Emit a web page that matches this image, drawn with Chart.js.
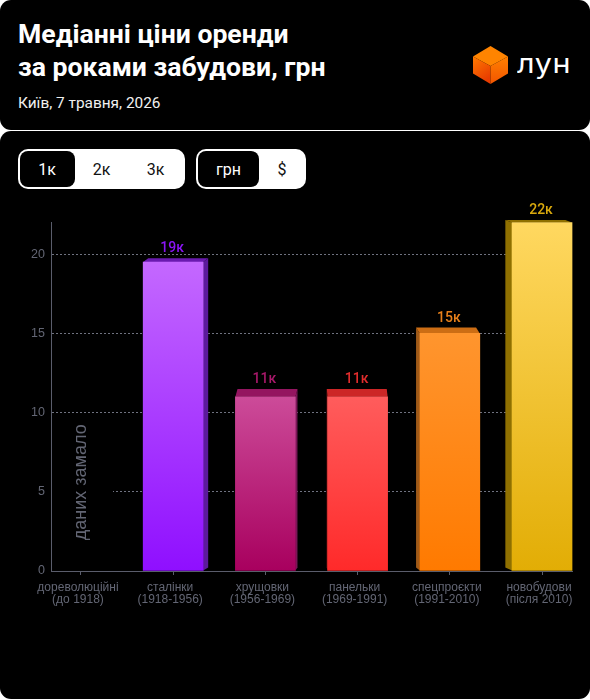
<!DOCTYPE html>
<html lang="uk">
<head>
<meta charset="utf-8">
<title>Медіанні ціни оренди</title>
<script src="https://cdn.jsdelivr.net/npm/chart.js@4"></script>
<style>
html, body { margin: 0; padding: 0; background: #fff; }
body { width: 590px; height: 700px; position: relative; overflow: hidden; font-family: Roboto, sans-serif; }
.card { position: absolute; left: 0; width: 590px; background: #000; border-radius: 11px; }
#head { top: 0; height: 130px; }
#body { top: 131px; height: 568px; }
h1 { position: absolute; left: 18px; top: 17px; margin: 0; color: #fff; font-size: 26.6px; line-height: 33px; font-weight: 700; }
#sub { position: absolute; left: 18px; top: 94px; color: #f0f0f0; font-size: 15.4px; line-height: 18px; }
#logo { position: absolute; left: 473px; top: 46px; }
#brand { position: absolute; left: 517px; top: 46px; color: #fff; font-family: Inter, sans-serif; font-weight: 400; font-size: 27px; line-height: 36px; letter-spacing: 0.5px; transform: scaleX(1.13); transform-origin: left center; }
.group { position: absolute; top: 149px; height: 40px; background: #fff; border-radius: 10px; color: #111; font-size: 16px; }
.group span { position: absolute; top: 2px; height: 36px; line-height: 37px; text-align: center; box-sizing: border-box; }
.group span.on { background: #000; color: #fff; border-radius: 8px; }
canvas { position: absolute; left: 0; top: 200px; }
</style>
</head>
<body>
<div class="card" id="head">
  <h1>Медіанні ціни оренди<br>за роками забудови, грн</h1>
  <div id="sub">Київ, 7 травня, 2026</div>
  <svg id="logo" width="35" height="38" viewBox="0 0 35 38">
    <defs>
      <linearGradient id="cl" x1="0" y1="0" x2="0.5" y2="1"><stop offset="0" stop-color="#ff7a00"/><stop offset="1" stop-color="#e83c00"/></linearGradient>
      <linearGradient id="cr" x1="0" y1="0" x2="0" y2="1"><stop offset="0" stop-color="#ff8000"/><stop offset="1" stop-color="#f25500"/></linearGradient>
    </defs>
    <polygon points="17.5,0 35,10.5 17.5,20 0,10.5" fill="#ff8400"/>
    <polygon points="0,10.5 17.5,20 17.5,38 0,27.5" fill="url(#cl)"/>
    <polygon points="35,10.5 17.5,20 17.5,38 35,27.5" fill="url(#cr)"/>
  </svg>
  <div id="brand">лун</div>
</div>
<div class="card" id="body"></div>
<div class="group" style="left:18px;width:167px">
  <span class="on" style="left:1.5px;width:55px">1к</span>
  <span style="left:56px;width:55px">2к</span>
  <span style="left:110px;width:55px">3к</span>
</div>
<div class="group" style="left:196px;width:110px">
  <span class="on" style="left:2px;width:61px">грн</span>
  <span style="left:62.5px;width:47px">$</span>
</div>
<canvas id="chart" width="590" height="420"></canvas>
<script>
const periods = [
  ['дореволюційні', '(до 1918)'],
  ['сталінки', '(1918-1956)'],
  ['хрущовки', '(1956-1969)'],
  ['панельки', '(1969-1991)'],
  ['спецпроєкти', '(1991-2010)'],
  ['новобудови', '(після 2010)']
];
const positions = [0, 1, 2, 3, 4, 5];
const rent = [null, 19.5, 11, 11, 15, 22];
const rentLabels = ['', '19к', '11к', '11к', '15к', '22к'];
const yTicks = [0, 5, 10, 15, 20];
const noDataText = 'даних замало';

// colours per bar: gradient top, gradient bottom, side, lid, label
const gradTop = [null, '#c468ff', '#cc4b99', '#ff5c5c', '#ff952e', '#ffd860'];
const gradBottom = [null, '#8f0fff', '#a8005e', '#ff2a2a', '#ff7a00', '#e2ad05'];
const sideColors = [null, '#5c1a9c', '#7a1658', '#b02424', '#a05a18', '#8f7000'];
const lidColors = [null, '#6a1ab0', '#941560', '#cc2626', '#cc6d14', '#8f7000'];
const labelColors = [null, '#8a14f5', '#a8186a', '#e02c2c', '#e8801a', '#d9a90d'];

const axisColor = '#5a5d6b';
const gridColor = '#6f7280';
const textColor = '#636674';

// fake 3d: the back of each box leans to one vanishing point (canvas coords)
const vanishX = 331, vanishY = -65, leanX = 0.0317, leanY = 0.0296, footRise = 3;

function barFill(ctx) {
  const i = ctx.dataIndex;
  if (rent[i] === null) return 'transparent';
  const y = ctx.chart.scales.y;
  const g = ctx.chart.ctx.createLinearGradient(0, y.getPixelForValue(rent[i]), 0, y.getPixelForValue(0));
  g.addColorStop(0, gradTop[i]);
  g.addColorStop(1, gradBottom[i]);
  return g;
}

function poly(c, pts, color) {
  c.fillStyle = color;
  c.beginPath();
  pts.forEach((p, n) => n ? c.lineTo(p[0], p[1]) : c.moveTo(p[0], p[1]));
  c.closePath();
  c.fill();
}

const boxes = {
  id: 'boxes',
  beforeDatasetsDraw(chart) {
    const c = chart.ctx;
    chart.getDatasetMeta(0).data.forEach((bar, i) => {
      if (rent[i] === null) return;
      const l = bar.x - bar.width / 2, r = bar.x + bar.width / 2;
      const dx = (vanishX - bar.x) * leanX;
      const dy = (bar.y - vanishY) * leanY;
      const edge = dx > 0 ? r : l;
      poly(c, [[edge, bar.y], [edge + dx, bar.y - dy], [edge + dx, bar.base - footRise], [edge, bar.base]], sideColors[i]);
      poly(c, [[l, bar.y], [r, bar.y], [r + dx, bar.y - dy], [l + dx, bar.y - dy]], lidColors[i]);
    });
  },
  afterDatasetsDraw(chart) {
    const c = chart.ctx;
    const { x, y } = chart.scales;
    c.save();
    c.font = '500 14px Roboto';
    c.textAlign = 'center';
    c.textBaseline = 'alphabetic';
    chart.getDatasetMeta(0).data.forEach((bar, i) => {
      if (rent[i] === null) return;
      const dy = (bar.y - vanishY) * leanY;
      c.fillStyle = labelColors[i];
      c.fillText(rentLabels[i], bar.x - 1, bar.y - dy - 6);
    });
    // label of the empty column sits on a black patch that hides the grid
    const cx = x.getPixelForValue(0), cy = y.getPixelForValue(5.6);
    c.fillStyle = '#000';
    c.fillRect(x.left + 1, cy - 58, cx + 32 - x.left - 1, 116);
    c.translate(cx, cy);
    c.rotate(-Math.PI / 2);
    c.font = '18px "Liberation Sans"';
    c.textBaseline = 'middle';
    c.fillStyle = textColor;
    c.fillText(noDataText, 0, 0);
    c.restore();
  }
};

new Chart(document.getElementById('chart'), {
  type: 'bar',
  data: {
    datasets: [{
      data: positions.map((p, i) => ({ x: p, y: rent[i] })),
      backgroundColor: barFill,
      borderWidth: 0,
      barThickness: 60,
      clip: false
    }]
  },
  plugins: [boxes],
  options: {
    responsive: false,
    animation: false,
    layout: { padding: { top: 22.5, right: 18 } },
    plugins: { legend: { display: false }, tooltip: { enabled: false } },
    scales: {
      x: {
        type: 'linear',
        offset: false,
        min: -0.325,
        max: 5.325,
        afterBuildTicks: (s) => { s.ticks = positions.map((p) => ({ value: p })); },
        afterFit: (s) => { s.height = 49; },
        grid: { offset: false, drawOnChartArea: false, tickLength: 4, color: axisColor },
        border: { color: axisColor, width: 1 },
        ticks: {
          autoSkip: false,
          maxRotation: 0,
          padding: 7,
          labelOffset: -3,
          color: textColor,
          font: { family: 'Liberation Sans', size: 12, lineHeight: 1 },
          callback: (v) => periods[v]
        }
      },
      y: {
        min: 0,
        max: 22,
        afterBuildTicks: (s) => { s.ticks = yTicks.map((v) => ({ value: v })); },
        afterFit: (s) => { s.width = 51; },
        grid: { color: gridColor, drawTicks: false },
        border: { color: axisColor, dash: [2, 2] },
        ticks: {
          padding: 6,
          color: textColor,
          font: { family: 'Liberation Sans', size: 12.5 }
        }
      }
    }
  }
});
</script>
</body>
</html>
